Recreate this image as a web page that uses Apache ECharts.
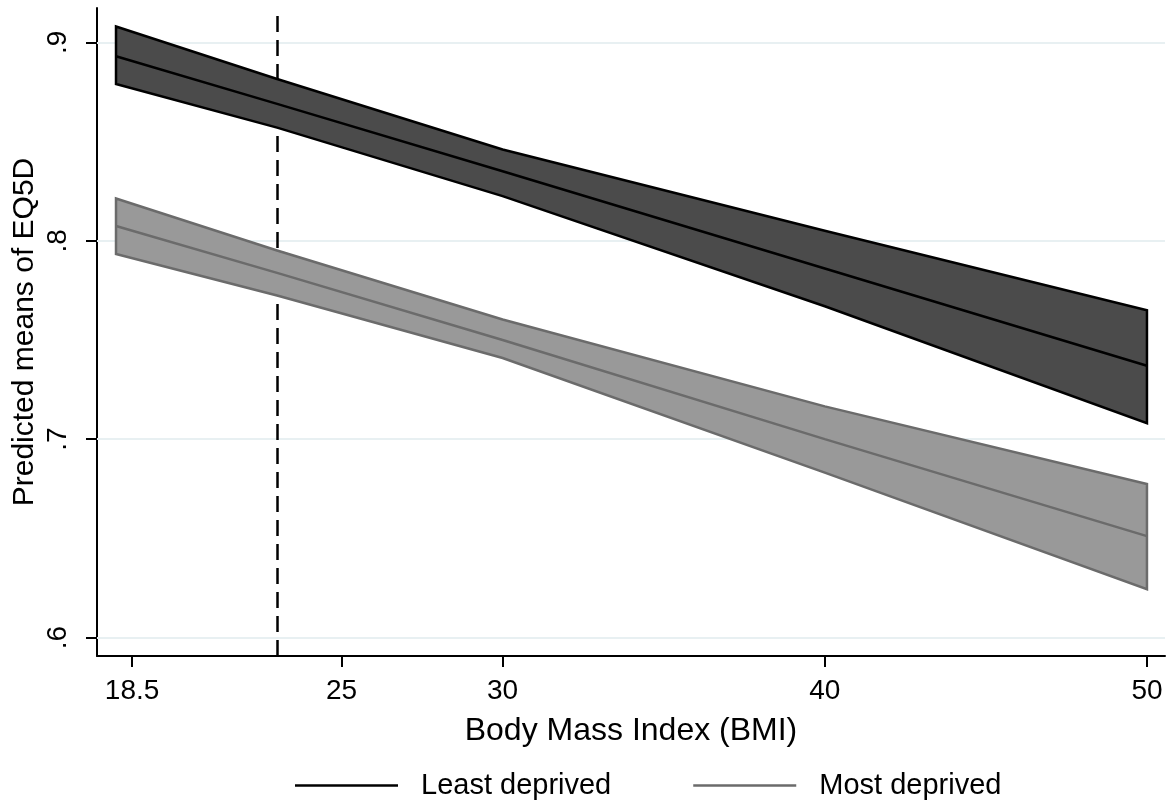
<!DOCTYPE html>
<html>
<head>
<meta charset="utf-8">
<script src="https://cdn.jsdelivr.net/npm/echarts@6/dist/echarts.min.js"></script>
<style>
  html, body { margin: 0; padding: 0; background: #ffffff; }
  #chart { width: 1171px; height: 804px; }
</style>
</head>
<body>
<div id="chart"></div>
<script>
// ---- Data ----
const bmi = [18, 23, 30, 40, 50];
const leastMean  = [0.893, 0.869, 0.835, 0.786, 0.737];
const leastUpper = [0.908, 0.8815, 0.846, 0.805, 0.765];
const leastLower = [0.879, 0.857, 0.8225, 0.767, 0.708];
const mostMean   = [0.8074, 0.7838, 0.750, 0.700, 0.6511];
const mostUpper  = [0.8213, 0.7951, 0.7603, 0.7165, 0.6774];
const mostLower  = [0.7933, 0.7724, 0.7409, 0.6831, 0.6244];
const xTicks = [18.5, 25, 30, 40, 50];
const yTicks = [0.6, 0.7, 0.8, 0.9];
const refLineBMI = 23;
const seriesNames = ['Least deprived', 'Most deprived'];

const FONT = "'Liberation Sans', Arial, sans-serif";

function band(upper, lower, fill, stroke) {
  return function (params, api) {
    const pts = [];
    for (let i = 0; i < bmi.length; i++) pts.push(api.coord([bmi[i], upper[i]]));
    for (let i = bmi.length - 1; i >= 0; i--) pts.push(api.coord([bmi[i], lower[i]]));
    return {
      type: 'polygon',
      shape: { points: pts },
      style: { fill: fill, stroke: stroke, lineWidth: 2.5, lineJoin: 'miter' }
    };
  };
}

const chart = echarts.init(document.getElementById('chart'), null, { renderer: 'canvas' });

const option = {
  animation: false,
  backgroundColor: '#ffffff',
  textStyle: { fontFamily: FONT, color: '#000' },
  grid: { left: 97, right: 6, top: 8, bottom: 148, containLabel: false, outerBoundsMode: 'none' },
  legend: {
    data: seriesNames,
    left: 290,
    top: 766,
    icon: 'rect',
    itemWidth: 103,
    itemHeight: 2.5,
    itemGap: 82,
    textStyle: { fontFamily: FONT, fontSize: 29, color: '#000', padding: [0, 0, 0, 18] }
  },
  xAxis: {
    type: 'value',
    min: 17.41,
    max: 50.56,
    name: 'Body Mass Index (BMI)',
    nameLocation: 'middle',
    nameGap: 59,
    nameTextStyle: { fontFamily: FONT, fontSize: 32, color: '#000' },
    axisLine: { show: true, onZero: false, lineStyle: { color: '#000', width: 2 } },
    axisTick: { show: true, inside: false, length: 11, lineStyle: { color: '#000', width: 2 }, customValues: xTicks },
    axisLabel: { show: true, margin: 21, fontFamily: FONT, fontSize: 28, color: '#000', customValues: xTicks,
                 formatter: function (v) { return String(v); } },
    splitLine: { show: false }
  },
  yAxis: {
    type: 'value',
    min: 0.5907,
    max: 0.9173,
    name: 'Predicted means of EQ5D',
    nameLocation: 'middle',
    nameGap: 57,
    nameMoveOverlap: false,
    nameRotate: 90,
    nameTextStyle: { fontFamily: FONT, fontSize: 30, color: '#000' },
    axisLine: { show: true, onZero: false, lineStyle: { color: '#000', width: 2 } },
    axisTick: { show: true, inside: false, length: 11, lineStyle: { color: '#000', width: 2 }, customValues: yTicks },
    axisLabel: { show: true, rotate: 90, margin: 25, fontFamily: FONT, fontSize: 28, color: '#000', customValues: yTicks,
                 formatter: function (v) { return (Math.round(v * 10) / 10).toFixed(1).replace(/^0/, ''); } },
    splitLine: { show: false }
  },
  series: [
    {
      type: 'line',
      name: 'refs',
      data: [],
      z: 1,
      silent: true,
      markLine: {
        z: 1,
        silent: true,
        symbol: ['none', 'none'],
        label: { show: false },
        animation: false,
        data: yTicks.map(v => ({ yAxis: v, lineStyle: { color: '#e8f0f2', width: 2, type: 'solid' } }))
          .concat([{ xAxis: refLineBMI, lineStyle: { color: '#000', width: 2.5, type: [16, 8] } }])
      }
    },
    {
      type: 'custom',
      name: 'leastBand',
      z: 3,
      silent: true,
      data: [0],
      renderItem: band(leastUpper, leastLower, '#4b4b4b', '#000000')
    },
    {
      type: 'custom',
      name: 'mostBand',
      z: 3,
      silent: true,
      data: [0],
      renderItem: band(mostUpper, mostLower, '#999999', '#6b6b6b')
    },
    {
      type: 'line',
      name: seriesNames[0],
      z: 4,
      color: '#000000',
      showSymbol: false,
      symbol: 'none',
      lineStyle: { color: '#000000', width: 2.5 },
      itemStyle: { color: '#000000' },
      data: bmi.map((x, i) => [x, leastMean[i]])
    },
    {
      type: 'line',
      name: seriesNames[1],
      z: 4,
      color: '#6b6b6b',
      showSymbol: false,
      symbol: 'none',
      lineStyle: { color: '#6b6b6b', width: 2.5 },
      itemStyle: { color: '#6b6b6b' },
      data: bmi.map((x, i) => [x, mostMean[i]])
    }
  ]
};

chart.setOption(option);
</script>
</body>
</html>
